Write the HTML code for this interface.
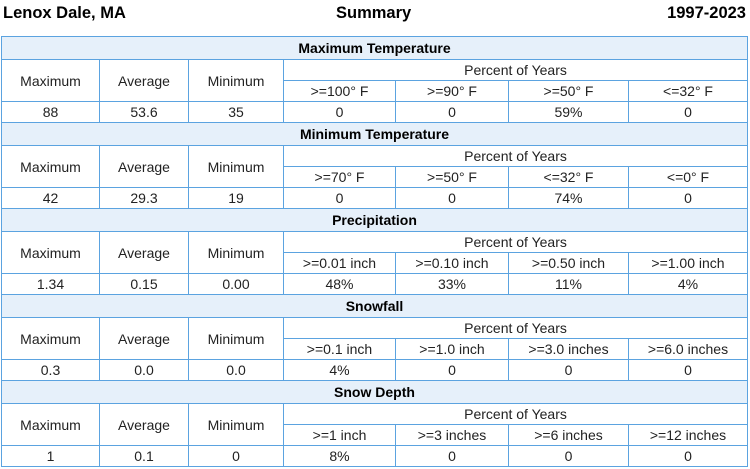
<!DOCTYPE html>
<html><head><meta charset="utf-8">
<style>
body{margin:0;width:750px;height:469px;background:#fff;font-family:"Liberation Sans",Arial,sans-serif;color:#222;position:relative;overflow:hidden}
.t{position:absolute;top:4px;font-weight:bold;font-size:16.5px;color:#000}
.c{position:absolute;box-sizing:border-box;border:1px solid #5ba3e0;display:flex;align-items:center;justify-content:center;font-size:14px;background:#fff}
.h{background:#e6f0fa;font-weight:bold;color:#000}
</style></head><body>
<div class="t" style="left:3px">Lenox Dale, MA</div>
<div class="t" style="left:336px">Summary</div>
<div class="t" style="right:4px">1997-2023</div>
<div id="root"></div>
<script>
const sections=["Maximum Temperature","Minimum Temperature","Precipitation","Snowfall","Snow Depth"];
const thresholds=[[">=100° F",">=90° F",">=50° F","<=32° F"],[">=70° F",">=50° F","<=32° F","<=0° F"],[">=0.01 inch",">=0.10 inch",">=0.50 inch",">=1.00 inch"],[">=0.1 inch",">=1.0 inch",">=3.0 inches",">=6.0 inches"],[">=1 inch",">=3 inches",">=6 inches",">=12 inches"]];
const stats=[["88","53.6","35"],["42","29.3","19"],["1.34","0.15","0.00"],["0.3","0.0","0.0"],["1","0.1","0"]];
const pcts=[["0","0","59%","0"],["0","0","74%","0"],["48%","33%","11%","4%"],["4%","0","0","0"],["8%","0","0","0"]];
const X=[1,99,188,283,395,508,628,747];
const root=document.getElementById('root');
function cell(x1,y1,x2,y2,txt,cls,name){
 const d=document.createElement('div');
 d.className='c'+(cls?' '+cls:'');
 d.style.left=x1+'px';d.style.top=y1+'px';d.style.width=(x2-x1+1)+'px';d.style.height=(y2-y1+1)+'px';
 d.textContent=txt;
 
 
 root.appendChild(d);return d;
}
const lbl=["Maximum","Average","Minimum"];
sections.forEach((s,i)=>{
 const y=36+i*86;
 cell(X[0],y,X[7],y+23,s,'h','section-header');
 for(let k=0;k<3;k++){
  cell(X[k],y+23,X[k+1],y+65,lbl[k],'','stat-label');
  cell(X[k],y+65,X[k+1],y+86,stats[i][k],'','stat-value');
 }
 cell(X[3],y+23,X[7],y+44,'Percent of Years','','percent-header');
 for(let k=0;k<4;k++){
  cell(X[3+k],y+44,X[4+k],y+65,thresholds[i][k],'','threshold-label');
  cell(X[3+k],y+65,X[4+k],y+86,pcts[i][k],'','percent-value');
 }
});
</script>
</body></html>
